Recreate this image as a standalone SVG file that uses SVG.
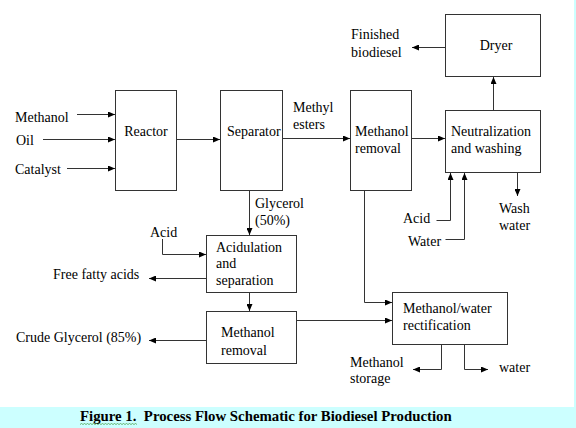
<svg xmlns="http://www.w3.org/2000/svg" width="576" height="428" viewBox="0 0 576 428">
<style>
.box{fill:#fff;stroke:#333;stroke-width:1}
.ln{fill:none;stroke:#333;stroke-width:1}
.arr{marker-end:url(#ah)}
text{font-family:"Liberation Serif","Times New Roman",serif;font-size:14px;fill:#000}
.c{text-anchor:middle}
.cap{font-weight:bold;font-size:14.8px}
</style>
<defs>
<marker id="ah" markerUnits="userSpaceOnUse" markerWidth="7" markerHeight="6" refX="7" refY="3" orient="auto">
<path d="M0,0 L7,3 L0,6 z" fill="#000"/>
</marker>
</defs>
<rect x="0" y="0" width="576" height="428" fill="#ccffff"/>
<rect x="0" y="0" width="574" height="407" fill="#fff"/>

<g id="connectors">
<path class="ln arr" d="M77,114.5 H115"/>
<path class="ln arr" d="M43,139.5 H115"/>
<path class="ln arr" d="M67,168.5 H115"/>
<path class="ln arr" d="M176.5,139.5 H220"/>
<path class="ln arr" d="M282.5,138.5 H350"/>
<path class="ln arr" d="M411.5,138.5 H445"/>
<path class="ln arr" d="M493.5,110.5 V77"/>
<path class="ln arr" d="M445.5,47.5 H412"/>
<path class="ln arr" d="M436.5,220.5 H450.5 V173"/>
<path class="ln arr" d="M445.5,239.5 H464.5 V173"/>
<path class="ln arr" d="M517.5,172.5 V196"/>
<path class="ln arr" d="M249.5,190.5 V235"/>
<path class="ln arr" d="M162.5,239 V254.5 H206"/>
<path class="ln arr" d="M206.5,278.5 H149"/>
<path class="ln arr" d="M249.5,292.5 V311"/>
<path class="ln arr" d="M206.5,340.5 H149"/>
<path class="ln arr" d="M296.5,320.5 H392"/>
<path class="ln arr" d="M364.5,190.5 V302.5 H392"/>
<path class="ln arr" d="M441.5,344.5 V369.5 H413"/>
<path class="ln arr" d="M464.5,344.5 V369.5 H488"/>
</g>

<g id="reactor">
<rect class="box" x="115.5" y="90.5" width="61" height="100"/>
<text class="c" x="146" y="136">Reactor</text>
</g>
<g id="separator">
<rect class="box" x="220.5" y="90.5" width="62" height="100"/>
<text x="227" y="136">Separator</text>
</g>
<g id="methanol-removal-1">
<rect class="box" x="350.5" y="90.5" width="61" height="100"/>
<text x="355" y="136">Methanol</text>
<text x="355" y="153">removal</text>
</g>
<g id="dryer">
<rect class="box" x="445.5" y="14.5" width="95" height="62"/>
<text class="c" x="496" y="50">Dryer</text>
</g>
<g id="neutralization">
<rect class="box" x="445.5" y="110.5" width="95" height="62"/>
<text x="451" y="136">Neutralization</text>
<text x="451" y="153">and washing</text>
</g>
<g id="acidulation">
<rect class="box" x="206.5" y="235.5" width="90" height="57"/>
<text x="216" y="252">Acidulation</text>
<text x="216" y="268">and</text>
<text x="216" y="285">separation</text>
</g>
<g id="methanol-removal-2">
<rect class="box" x="206.5" y="311.5" width="90" height="52"/>
<text x="221" y="337">Methanol</text>
<text x="221" y="355">removal</text>
</g>
<g id="rectification">
<rect class="box" x="392.5" y="292.5" width="115" height="52"/>
<text x="403" y="313">Methanol/water</text>
<text x="403" y="330">rectification</text>
</g>

<g id="labels">
<text x="15" y="122">Methanol</text>
<text x="16" y="145">Oil</text>
<text x="15" y="174">Catalyst</text>
<text x="293" y="112">Methyl</text>
<text x="293" y="129">esters</text>
<text x="351" y="39">Finished</text>
<text x="351" y="57">biodiesel</text>
<text x="403" y="223">Acid</text>
<text x="408" y="246">Water</text>
<text x="499" y="213">Wash</text>
<text x="499" y="230">water</text>
<text x="255" y="208">Glycerol</text>
<text x="255" y="225">(50%)</text>
<text x="150" y="237">Acid</text>
<text x="53" y="279">Free fatty acids</text>
<text x="16" y="342">Crude Glycerol (85%)</text>
<text x="350" y="367">Methanol</text>
<text x="350" y="383">storage</text>
<text x="499" y="372">water</text>
</g>

<g id="caption">
<text class="cap" x="80" y="421" xml:space="preserve">Figure 1.  Process Flow Schematic for Biodiesel Production</text>
<path d="M80,424.5 l1.5,-1 l1.5,1 l1.5,-1 l1.5,1 l1.5,-1 l1.5,1 l1.5,-1 l1.5,1 l1.5,-1 l1.5,1 l1.5,-1 l1.5,1 l1.5,-1 l1.5,1 l1.5,-1 l1.5,1 l1.5,-1 l1.5,1 l1.5,-1 l1.5,1 l1.5,-1 l1.5,1 l1.5,-1 l1.5,1 l1.5,-1 l1.5,1 l1.5,-1 l1.5,1 l1.5,-1 l1.5,1 l1.5,-1 l1.5,1 l1.5,-1 l1.5,1 l1.5,-1 l1.5,1 l1.5,-1 l1.5,1" fill="none" stroke="#3a9a3a" stroke-width="0.7"/>
</g>
</svg>
